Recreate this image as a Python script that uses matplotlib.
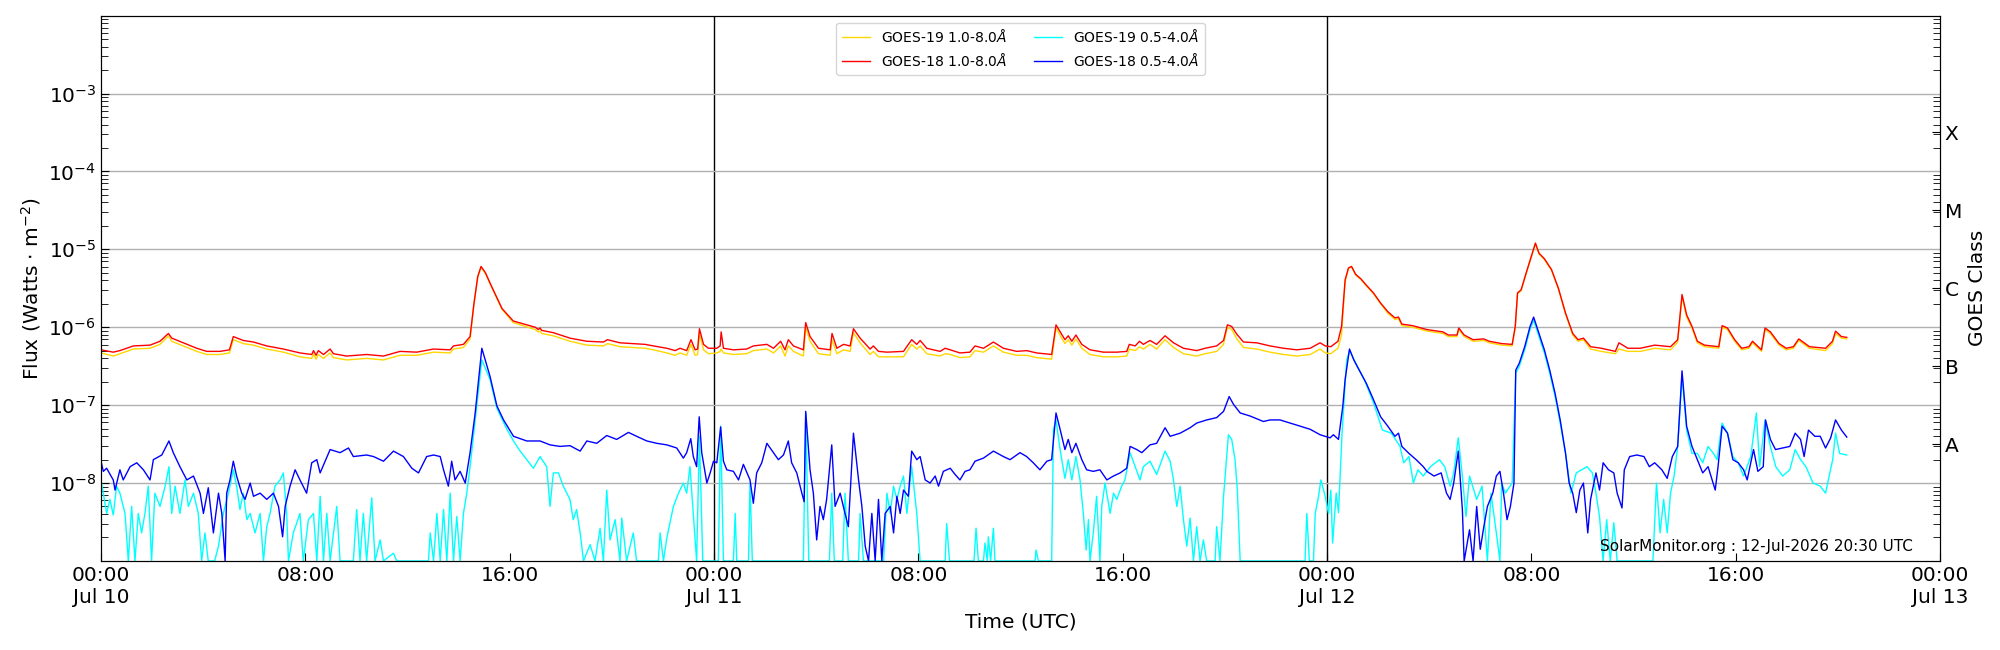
import numpy as np
import matplotlib
matplotlib.use("Agg")
import matplotlib.pyplot as plt
from matplotlib.ticker import LogLocator, NullFormatter

# hours since 2026-07-10 00:00 UTC ; flux given as log10(W m^-2)
t_long = [
    0.00, 0.48, 0.74, 1.27, 1.92, 2.31, 2.64, 2.77, 3.22, 3.75,
    4.14, 4.66, 5.03, 5.18, 5.57, 5.97, 6.49, 7.14, 7.79, 8.25,
    8.32, 8.42, 8.51, 8.71, 8.97, 9.10, 9.62, 10.40, 11.06, 11.71,
    12.36, 13.02, 13.67, 13.80, 14.19, 14.45, 14.60, 14.75, 14.88, 15.05,
    15.27, 15.70, 16.14, 17.00, 17.12, 17.19, 17.25, 17.71, 18.36, 19.02,
    19.67, 19.83, 20.32, 20.84, 21.30, 21.63, 22.15, 22.48, 22.67, 22.93,
    23.10, 23.26, 23.36, 23.43, 23.59, 23.78, 24.11, 24.24, 24.28, 24.37,
    24.76, 25.28, 25.54, 26.07, 26.33, 26.61, 26.78, 26.91, 27.11, 27.50,
    27.59, 27.76, 28.09, 28.55, 28.62, 28.81, 29.07, 29.33, 29.46, 29.72,
    30.11, 30.24, 30.44, 30.77, 31.42, 31.74, 31.94, 32.07, 32.33, 32.85,
    33.05, 33.25, 33.63, 34.02, 34.22, 34.55, 34.94, 35.33, 35.85, 36.24,
    36.63, 37.22, 37.39, 37.61, 37.74, 37.87, 38.01, 38.17, 38.40, 38.72,
    39.25, 39.77, 40.16, 40.26, 40.49, 40.66, 40.81, 41.07, 41.33, 41.66,
    41.99, 42.38, 42.90, 43.23, 43.68, 43.95, 44.10, 44.27, 44.47, 44.73,
    45.25, 45.77, 46.30, 46.82, 47.34, 47.73, 47.93, 48.15, 48.43, 48.57,
    48.71, 48.84, 48.96, 49.12, 49.33, 49.54, 49.82, 50.10, 50.38, 50.66,
    50.80, 50.93, 51.35, 51.91, 52.54, 52.75, 53.09, 53.16, 53.37, 53.72,
    54.14, 54.35, 54.84, 55.25, 55.37, 55.46, 55.60, 55.81, 56.16, 56.30,
    56.51, 56.79, 57.06, 57.34, 57.62, 57.83, 58.04, 58.32, 58.74, 59.29,
    59.43, 59.78, 60.27, 60.83, 61.45, 61.73, 61.90, 62.08, 62.29, 62.50,
    62.78, 63.34, 63.47, 63.68, 63.96, 64.24, 64.52, 64.66, 65.01, 65.15,
    65.36, 65.70, 65.98, 66.26, 66.47, 66.89, 67.52, 67.79, 67.91, 68.14,
    68.35,
]
g18_long = [
    -6.29, -6.32, -6.30, -6.24, -6.23, -6.18, -6.08, -6.14, -6.20, -6.27,
    -6.31, -6.31, -6.29, -6.12, -6.17, -6.19, -6.24, -6.28, -6.33, -6.35,
    -6.30, -6.36, -6.30, -6.35, -6.28, -6.34, -6.37, -6.35, -6.37, -6.31,
    -6.32, -6.28, -6.29, -6.24, -6.22, -6.12, -5.70, -5.35, -5.22, -5.30,
    -5.46, -5.76, -5.92, -6.00, -6.03, -6.01, -6.04, -6.07, -6.14, -6.18,
    -6.19, -6.16, -6.20, -6.21, -6.22, -6.24, -6.27, -6.30, -6.27, -6.30,
    -6.16, -6.29, -6.28, -6.02, -6.22, -6.27, -6.27, -6.24, -6.06, -6.27,
    -6.29, -6.28, -6.24, -6.22, -6.27, -6.18, -6.29, -6.16, -6.24, -6.29,
    -5.94, -6.12, -6.27, -6.29, -6.08, -6.27, -6.22, -6.24, -6.02, -6.14,
    -6.28, -6.24, -6.31, -6.32, -6.31, -6.16, -6.22, -6.17, -6.27, -6.31,
    -6.27, -6.29, -6.33, -6.32, -6.24, -6.27, -6.19, -6.27, -6.31, -6.30,
    -6.33, -6.35, -5.97, -6.09, -6.16, -6.11, -6.18, -6.10, -6.22, -6.29,
    -6.32, -6.32, -6.31, -6.22, -6.24, -6.18, -6.22, -6.17, -6.22, -6.11,
    -6.20, -6.27, -6.30, -6.27, -6.24, -6.17, -5.97, -5.99, -6.09, -6.19,
    -6.20, -6.24, -6.27, -6.29, -6.27, -6.20, -6.24, -6.25, -6.18, -5.99,
    -5.39, -5.24, -5.22, -5.32, -5.38, -5.46, -5.56, -5.69, -5.80, -5.88,
    -5.87, -5.96, -5.98, -6.03, -6.06, -6.10, -6.10, -6.01, -6.10, -6.16,
    -6.15, -6.18, -6.21, -6.22, -5.99, -5.56, -5.52, -5.29, -4.92, -5.05,
    -5.12, -5.26, -5.50, -5.82, -6.08, -6.16, -6.14, -6.25, -6.27, -6.31,
    -6.20, -6.27, -6.27, -6.23, -6.25, -6.16, -5.58, -5.84, -5.99, -6.18,
    -6.23, -6.25, -5.98, -6.01, -6.16, -6.27, -6.25, -6.18, -6.29, -6.01,
    -6.06, -6.21, -6.27, -6.25, -6.15, -6.25, -6.27, -6.18, -6.05, -6.12,
    -6.13,
]
g19_long = [
    -6.33, -6.37, -6.34, -6.28, -6.27, -6.22, -6.11, -6.18, -6.24, -6.31,
    -6.35, -6.35, -6.33, -6.16, -6.21, -6.23, -6.28, -6.32, -6.38, -6.40,
    -6.34, -6.41, -6.35, -6.40, -6.33, -6.39, -6.42, -6.40, -6.42, -6.36,
    -6.36, -6.32, -6.33, -6.28, -6.26, -6.15, -5.71, -5.36, -5.23, -5.31,
    -5.47, -5.77, -5.94, -6.03, -6.06, -6.05, -6.08, -6.11, -6.18, -6.23,
    -6.24, -6.21, -6.25, -6.26, -6.27, -6.29, -6.33, -6.36, -6.33, -6.36,
    -6.22, -6.36, -6.35, -6.08, -6.29, -6.34, -6.33, -6.31, -6.28, -6.33,
    -6.35, -6.34, -6.30, -6.28, -6.33, -6.24, -6.37, -6.24, -6.31, -6.37,
    -6.00, -6.18, -6.34, -6.36, -6.16, -6.34, -6.29, -6.31, -6.07, -6.20,
    -6.35, -6.31, -6.38, -6.38, -6.38, -6.22, -6.28, -6.24, -6.34, -6.37,
    -6.34, -6.35, -6.39, -6.38, -6.30, -6.32, -6.24, -6.32, -6.36, -6.36,
    -6.39, -6.41, -6.01, -6.14, -6.21, -6.16, -6.23, -6.15, -6.27, -6.35,
    -6.38, -6.38, -6.37, -6.28, -6.30, -6.25, -6.28, -6.22, -6.28, -6.16,
    -6.26, -6.34, -6.37, -6.34, -6.31, -6.22, -6.00, -6.03, -6.15, -6.26,
    -6.28, -6.32, -6.35, -6.37, -6.35, -6.28, -6.33, -6.34, -6.27, -6.10,
    -5.42, -5.25, -5.22, -5.33, -5.39, -5.47, -5.57, -5.70, -5.82, -5.90,
    -5.89, -5.98, -6.00, -6.05, -6.08, -6.12, -6.12, -6.03, -6.12, -6.18,
    -6.17, -6.20, -6.23, -6.24, -6.01, -5.57, -5.53, -5.30, -4.93, -5.06,
    -5.13, -5.27, -5.51, -5.83, -6.10, -6.18, -6.16, -6.28, -6.31, -6.34,
    -6.28, -6.31, -6.31, -6.27, -6.29, -6.19, -5.61, -5.87, -6.01, -6.20,
    -6.25, -6.27, -6.00, -6.03, -6.18, -6.29, -6.27, -6.20, -6.31, -6.03,
    -6.08, -6.23, -6.29, -6.27, -6.17, -6.27, -6.30, -6.21, -6.08, -6.14,
    -6.15,
]

t_g18_short = [
    0.00, 0.09, 0.22, 0.48, 0.55, 0.74, 0.87, 1.14, 1.40, 1.66,
    1.92, 2.05, 2.38, 2.66, 2.83, 3.09, 3.36, 3.62, 3.88, 4.01,
    4.20, 4.40, 4.60, 4.73, 4.86, 4.92, 5.05, 5.18, 5.31, 5.51,
    5.64, 5.84, 5.97, 6.23, 6.49, 6.75, 6.95, 7.11, 7.21, 7.40,
    7.60, 7.79, 8.05, 8.25, 8.45, 8.58, 8.97, 9.36, 9.69, 9.88,
    10.40, 10.67, 11.06, 11.45, 11.84, 12.17, 12.43, 12.75, 13.02, 13.28,
    13.41, 13.60, 13.73, 13.86, 14.06, 14.26, 14.45, 14.65, 14.91, 15.23,
    15.50, 15.76, 16.15, 16.67, 17.19, 17.58, 17.97, 18.36, 18.76, 19.02,
    19.41, 19.80, 20.19, 20.65, 20.97, 21.37, 21.76, 22.15, 22.54, 22.80,
    22.93, 23.09, 23.19, 23.32, 23.42, 23.52, 23.72, 23.85, 23.98, 24.11,
    24.26, 24.37, 24.50, 24.76, 24.96, 25.15, 25.41, 25.54, 25.67, 25.87,
    26.07, 26.33, 26.52, 26.72, 26.91, 27.04, 27.24, 27.44, 27.53, 27.59,
    27.76, 27.89, 28.02, 28.15, 28.28, 28.41, 28.61, 28.74, 28.94, 29.13,
    29.26, 29.46, 29.66, 29.79, 29.92, 30.05, 30.18, 30.31, 30.44, 30.57,
    30.70, 30.90, 31.03, 31.16, 31.29, 31.42, 31.61, 31.74, 31.94, 32.07,
    32.27, 32.46, 32.66, 32.79, 32.98, 33.25, 33.44, 33.63, 33.83, 34.02,
    34.22, 34.55, 34.94, 35.33, 35.59, 35.98, 36.24, 36.50, 36.76, 37.03,
    37.22, 37.39, 37.55, 37.74, 37.87, 38.01, 38.17, 38.40, 38.59, 38.85,
    39.11, 39.38, 39.64, 39.90, 40.16, 40.29, 40.55, 40.75, 41.07, 41.33,
    41.66, 41.86, 42.25, 42.64, 42.90, 43.29, 43.68, 43.95, 44.17, 44.34,
    44.60, 44.99, 45.51, 45.77, 46.16, 46.56, 46.95, 47.34, 47.73, 48.12,
    48.25, 48.45, 48.62, 48.71, 48.88, 49.05, 49.26, 49.54, 49.82, 50.10,
    50.38, 50.66, 50.80, 50.93, 51.21, 51.49, 51.77, 51.91, 52.19, 52.47,
    52.68, 52.82, 52.96, 53.14, 53.30, 53.37, 53.58, 53.72, 53.86, 54.00,
    54.14, 54.28, 54.49, 54.63, 54.77, 54.91, 55.05, 55.18, 55.32, 55.39,
    55.53, 55.74, 55.95, 56.09, 56.30, 56.51, 56.72, 56.93, 57.13, 57.34,
    57.48, 57.62, 57.76, 57.90, 58.04, 58.21, 58.32, 58.53, 58.67, 58.81,
    59.02, 59.23, 59.36, 59.55, 59.64, 59.85, 60.13, 60.41, 60.62, 60.83,
    61.11, 61.32, 61.52, 61.73, 61.90, 62.08, 62.29, 62.50, 62.71, 62.92,
    63.20, 63.31, 63.47, 63.68, 63.89, 64.10, 64.31, 64.45, 64.70, 64.87,
    65.08, 65.17, 65.36, 65.56, 65.84, 66.12, 66.33, 66.54, 66.68, 66.85,
    67.10, 67.31, 67.52, 67.72, 67.91, 68.14, 68.35,
]
g18_short = [
    -7.72, -7.85, -7.81, -7.96, -8.09, -7.83, -7.96, -7.79, -7.74, -7.83,
    -7.96, -7.70, -7.64, -7.46, -7.61, -7.79, -7.96, -7.91, -8.13, -8.39,
    -8.06, -8.64, -8.13, -8.39, -9.00, -8.13, -7.96, -7.72, -7.91, -8.13,
    -8.21, -8.00, -8.17, -8.13, -8.21, -8.13, -8.30, -8.69, -8.30, -8.04,
    -7.83, -7.96, -8.13, -7.74, -7.70, -7.87, -7.57, -7.61, -7.55, -7.66,
    -7.64, -7.66, -7.72, -7.59, -7.66, -7.81, -7.87, -7.66, -7.64, -7.66,
    -7.83, -8.04, -7.72, -7.96, -7.85, -8.00, -7.61, -7.10, -6.27, -6.63,
    -7.01, -7.19, -7.40, -7.46, -7.46, -7.51, -7.53, -7.52, -7.59, -7.46,
    -7.49, -7.39, -7.44, -7.35, -7.40, -7.46, -7.49, -7.51, -7.55, -7.68,
    -7.61, -7.43, -7.66, -7.79, -7.15, -7.61, -8.00, -7.87, -7.72, -7.74,
    -7.28, -7.72, -7.83, -7.85, -7.96, -7.76, -7.96, -8.26, -7.87, -7.74,
    -7.49, -7.61, -7.70, -7.64, -7.46, -7.74, -7.87, -8.13, -8.24, -7.08,
    -7.83, -8.13, -8.73, -8.30, -8.47, -8.21, -7.51, -8.30, -8.13, -8.39,
    -8.56, -7.36, -7.96, -8.30, -8.81, -9.00, -8.39, -9.00, -8.21, -9.00,
    -8.39, -8.30, -8.64, -8.17, -8.39, -8.09, -8.17, -7.59, -7.70, -7.66,
    -7.96, -8.00, -7.91, -8.04, -7.85, -7.81, -7.89, -7.96, -7.85, -7.83,
    -7.72, -7.68, -7.59, -7.66, -7.70, -7.61, -7.66, -7.74, -7.83, -7.72,
    -7.70, -7.10, -7.31, -7.57, -7.44, -7.61, -7.49, -7.70, -7.83, -7.85,
    -7.83, -7.96, -7.91, -7.87, -7.81, -7.53, -7.57, -7.61, -7.51, -7.49,
    -7.29, -7.40, -7.36, -7.29, -7.23, -7.19, -7.16, -7.08, -6.89, -6.99,
    -7.10, -7.14, -7.21, -7.19, -7.19, -7.23, -7.27, -7.31, -7.38, -7.42,
    -7.38, -7.44, -7.01, -6.67, -6.28, -6.42, -6.55, -6.72, -6.93, -7.15,
    -7.27, -7.40, -7.36, -7.53, -7.62, -7.70, -7.79, -7.85, -7.91, -7.87,
    -8.13, -8.21, -8.00, -7.59, -8.34, -9.00, -8.60, -9.00, -8.30, -8.85,
    -8.56, -8.30, -8.13, -7.91, -7.85, -8.13, -8.47, -8.30, -8.00, -6.55,
    -6.46, -6.25, -5.99, -5.87, -6.08, -6.29, -6.55, -6.85, -7.19, -7.62,
    -8.00, -8.13, -8.38, -8.09, -8.00, -8.64, -8.21, -7.87, -8.09, -7.74,
    -7.83, -7.87, -8.13, -8.32, -7.83, -7.66, -7.64, -7.66, -7.79, -7.74,
    -7.83, -7.94, -7.66, -7.53, -6.56, -7.27, -7.53, -7.70, -7.87, -7.79,
    -8.09, -7.79, -7.27, -7.36, -7.70, -7.74, -7.83, -7.96, -7.57, -7.85,
    -7.79, -7.19, -7.44, -7.57, -7.55, -7.53, -7.36, -7.44, -7.66, -7.32,
    -7.40, -7.40, -7.55, -7.42, -7.19, -7.32, -7.41,
]

t_g19_short = [
    0.00, 0.09, 0.22, 0.35, 0.48, 0.61, 0.74, 0.94, 1.07, 1.20,
    1.33, 1.46, 1.59, 1.72, 1.85, 1.98, 2.11, 2.31, 2.51, 2.66,
    2.77, 2.90, 3.09, 3.29, 3.42, 3.62, 3.81, 3.94, 4.07, 4.20,
    4.45, 4.60, 4.79, 4.99, 5.18, 5.31, 5.44, 5.57, 5.71, 5.84,
    6.03, 6.23, 6.36, 6.49, 6.62, 6.81, 7.01, 7.14, 7.27, 7.34,
    7.53, 7.79, 7.92, 8.12, 8.32, 8.45, 8.58, 8.71, 8.84, 8.97,
    9.23, 9.36, 9.88, 10.01, 10.14, 10.27, 10.40, 10.60, 10.73, 10.93,
    11.06, 11.45, 11.58, 12.82, 12.89, 13.02, 13.15, 13.28, 13.41, 13.54,
    13.67, 13.80, 13.93, 14.06, 14.19, 14.32, 14.45, 14.65, 14.91, 15.23,
    15.50, 15.89, 16.15, 16.41, 16.67, 16.93, 17.19, 17.45, 17.58, 17.71,
    17.91, 18.10, 18.36, 18.49, 18.62, 18.76, 18.89, 19.15, 19.34, 19.54,
    19.67, 19.80, 19.93, 20.13, 20.32, 20.39, 20.58, 20.84, 20.97, 21.82,
    21.89, 22.02, 22.15, 22.41, 22.61, 22.80, 22.93, 23.06, 23.19, 23.32,
    23.43, 23.56, 24.17, 24.26, 24.37, 24.76, 24.83, 24.89, 25.35, 25.41,
    25.50, 27.50, 27.59, 27.71, 28.52, 28.61, 28.71, 29.04, 29.13, 29.26,
    29.66, 29.72, 29.85, 30.64, 30.77, 30.90, 31.03, 31.16, 31.29, 31.42,
    31.55, 31.74, 31.94, 32.07, 33.05, 33.11, 33.22, 34.18, 34.26, 34.35,
    34.55, 34.61, 34.70, 34.74, 34.83, 34.94, 35.00, 36.57, 36.61, 36.70,
    37.22, 37.29, 37.39, 37.55, 37.74, 37.87, 38.01, 38.17, 38.33, 38.46,
    38.57, 38.66, 38.72, 38.85, 38.98, 39.11, 39.18, 39.31, 39.51, 39.64,
    39.77, 39.96, 40.09, 40.29, 40.49, 40.68, 40.81, 41.07, 41.33, 41.66,
    41.86, 41.99, 42.12, 42.25, 42.38, 42.51, 42.64, 42.77, 42.90, 43.03,
    43.16, 43.29, 43.62, 43.68, 43.81, 43.95, 44.14, 44.27, 44.40, 44.49,
    44.60, 47.14, 47.21, 47.31, 47.47, 47.54, 47.67, 47.76, 47.93, 48.06,
    48.15, 48.22, 48.36, 48.45, 48.59, 48.77, 48.89, 49.12, 49.47, 49.82,
    50.17, 50.52, 50.86, 51.00, 51.21, 51.38, 51.56, 51.77, 52.05, 52.40,
    52.61, 52.82, 52.96, 53.14, 53.30, 53.44, 53.58, 53.86, 54.07, 54.28,
    54.42, 54.63, 54.77, 54.84, 54.98, 55.25, 55.39, 55.53, 55.74, 55.95,
    56.09, 56.30, 56.51, 56.72, 56.93, 57.13, 57.34, 57.55, 57.76, 57.97,
    58.18, 58.39, 58.53, 58.67, 58.81, 58.95, 59.09, 59.23, 59.36, 60.76,
    60.90, 61.04, 61.18, 61.32, 61.45, 61.59, 61.73, 61.90, 62.08, 62.29,
    62.50, 62.71, 62.92, 63.13, 63.27, 63.47, 63.68, 63.89, 64.10, 64.31,
    64.59, 64.81, 64.94, 65.15, 65.36, 65.57, 65.84, 66.12, 66.33, 66.54,
    66.75, 67.03, 67.31, 67.52, 67.66, 67.80, 67.91, 68.07, 68.35,
]
g19_short = [
    -7.96, -8.13, -8.39, -8.21, -8.41, -8.04, -8.13, -8.39, -9.00, -8.30,
    -9.00, -8.39, -8.64, -8.39, -8.04, -9.00, -8.13, -8.30, -8.04, -7.79,
    -8.39, -8.04, -8.39, -7.96, -8.30, -8.13, -8.39, -9.00, -8.64, -9.00,
    -9.00, -8.81, -8.39, -8.13, -7.83, -8.04, -8.34, -8.13, -8.47, -8.39,
    -8.64, -8.39, -9.00, -8.56, -8.39, -8.04, -7.96, -7.87, -8.39, -9.00,
    -8.64, -8.39, -9.00, -8.47, -8.39, -9.00, -8.17, -9.00, -8.39, -9.00,
    -8.30, -9.00, -9.00, -8.34, -9.00, -8.39, -9.00, -8.19, -9.00, -8.73,
    -9.00, -8.90, -9.00, -9.00, -8.64, -9.00, -8.39, -9.00, -8.34, -9.00,
    -8.13, -9.00, -8.43, -9.00, -8.39, -8.13, -7.79, -7.19, -6.42, -6.67,
    -7.04, -7.31, -7.46, -7.59, -7.70, -7.81, -7.66, -7.79, -8.30, -7.87,
    -7.87, -8.04, -8.21, -8.47, -8.34, -8.64, -9.00, -8.79, -9.00, -8.58,
    -9.00, -8.09, -8.73, -8.47, -9.00, -8.45, -9.00, -8.64, -9.00, -9.00,
    -8.64, -9.00, -8.71, -8.30, -8.13, -8.00, -8.13, -7.79, -8.39, -9.00,
    -7.40, -9.00, -9.00, -7.27, -9.00, -9.00, -8.39, -9.00, -9.00, -8.00,
    -9.00, -9.00, -7.10, -9.00, -9.00, -8.13, -9.00, -9.00, -8.13, -9.00,
    -9.00, -8.39, -9.00, -9.00, -8.13, -8.39, -8.04, -8.21, -8.04, -7.91,
    -8.39, -7.79, -8.39, -9.00, -9.00, -8.52, -9.00, -9.00, -8.58, -9.00,
    -9.00, -8.77, -9.00, -8.69, -9.00, -8.58, -9.00, -9.00, -8.86, -9.00,
    -9.00, -7.31, -7.19, -7.57, -7.94, -7.70, -7.96, -7.66, -7.96, -8.39,
    -8.86, -8.47, -9.00, -8.64, -8.17, -9.00, -8.30, -8.00, -8.39, -8.13,
    -8.21, -8.04, -7.96, -7.61, -7.79, -7.96, -7.79, -7.72, -7.89, -7.59,
    -7.72, -7.96, -8.30, -8.04, -8.47, -8.81, -8.45, -9.00, -8.56, -9.00,
    -8.73, -9.00, -9.00, -8.56, -9.00, -8.17, -7.38, -7.44, -7.70, -8.09,
    -9.00, -9.00, -8.39, -9.00, -9.00, -8.39, -8.17, -7.96, -8.17, -8.39,
    -8.09, -8.77, -8.13, -8.38, -7.36, -6.42, -6.30, -6.46, -6.68, -6.97,
    -7.32, -7.36, -7.53, -7.74, -7.66, -8.00, -7.83, -7.91, -7.79, -7.70,
    -7.79, -8.04, -7.87, -7.42, -7.91, -8.43, -7.91, -8.21, -8.04, -9.00,
    -8.13, -8.64, -9.00, -8.00, -8.13, -8.00, -6.59, -6.50, -6.29, -6.03,
    -5.91, -6.12, -6.33, -6.59, -6.89, -7.23, -7.62, -8.13, -7.87, -7.83,
    -7.79, -7.87, -8.13, -8.43, -9.00, -8.47, -9.00, -8.51, -9.00, -9.00,
    -8.00, -8.64, -8.21, -8.64, -8.13, -7.91, -7.53, -6.63, -7.32, -7.62,
    -7.62, -7.74, -7.53, -7.62, -7.70, -7.23, -7.36, -7.66, -7.74, -7.91,
    -7.66, -7.10, -7.79, -7.19, -7.53, -7.79, -7.91, -7.83, -7.57, -7.70,
    -7.79, -8.00, -8.04, -8.13, -7.91, -7.70, -7.36, -7.62, -7.64,
]

tick_hours = [0, 8, 16, 24, 32, 40, 48, 56, 64, 72]
tick_labels = ["00:00\nJul 10", "08:00", "16:00", "00:00\nJul 11", "08:00",
               "16:00", "00:00\nJul 12", "08:00", "16:00", "00:00\nJul 13"]
day_lines = [24, 48]
class_labels = ["A", "B", "C", "M", "X"]
class_exponents = [-7.5, -6.5, -5.5, -4.5, -3.5]
flux_ticks = [1e-8, 1e-7, 1e-6, 1e-5, 1e-4, 1e-3]

fig = plt.figure(figsize=(20, 6.5), dpi=100)
ax = fig.add_axes([0.0505, 0.137, 0.9195, 0.839])

for d in day_lines:
    ax.axvline(d, color="black", lw=1.0, zorder=1)

ax.plot(t_long, 10.0 ** np.array(g19_long), color="gold", lw=1.0,
        label=r"GOES-19 1.0-8.0$\AA$")
ax.plot(t_long, 10.0 ** np.array(g18_long), color="red", lw=1.0,
        label=r"GOES-18 1.0-8.0$\AA$")
ax.plot(t_g19_short, 10.0 ** np.array(g19_short), color="cyan", lw=1.0,
        label=r"GOES-19 0.5-4.0$\AA$")
ax.plot(t_g18_short, 10.0 ** np.array(g18_short), color="blue", lw=1.0,
        label=r"GOES-18 0.5-4.0$\AA$")

ax.set_yscale("log")
ax.set_ylim(1e-9, 1e-2)
ax.set_xlim(0, 72)
ax.set_yticks(flux_ticks)
ax.yaxis.set_minor_locator(LogLocator(base=10, subs=np.arange(2, 10), numticks=20))
ax.yaxis.set_minor_formatter(NullFormatter())
ax.grid(axis="y", which="major", color="#b0b0b0", lw=1.0)
ax.set_xticks(tick_hours)
ax.set_xticklabels(tick_labels)
ax.tick_params(which="both", direction="in", labelsize=14.5)
ax.tick_params(which="major", length=6)
ax.tick_params(which="minor", length=5)
ax.set_ylabel(r"Flux (Watts $\cdot$ m$^{-2}$)", fontsize=14.5)
ax.set_xlabel("Time (UTC)", fontsize=14.5)

ax.legend(loc="upper center", ncol=2, fontsize=10)
ax.text(0.9853, 0.019, "SolarMonitor.org : 12-Jul-2026 20:30 UTC",
        transform=ax.transAxes, ha="right", va="baseline", fontsize=11)

ax2 = ax.twinx()
ax2.set_yscale("log")
ax2.set_ylim(1e-9, 1e-2)
ax2.set_yticks(10.0 ** np.array(class_exponents))
ax2.set_yticklabels(class_labels)
ax2.yaxis.set_minor_locator(LogLocator(base=10, subs=np.arange(2, 10), numticks=20))
ax2.yaxis.set_minor_formatter(NullFormatter())
ax2.tick_params(which="both", direction="in", labelsize=14.5)
ax2.tick_params(which="major", length=6)
ax2.tick_params(which="minor", length=5)
ax2.set_ylabel("GOES Class", fontsize=14.5)

fig.savefig("out.png", dpi=100)
